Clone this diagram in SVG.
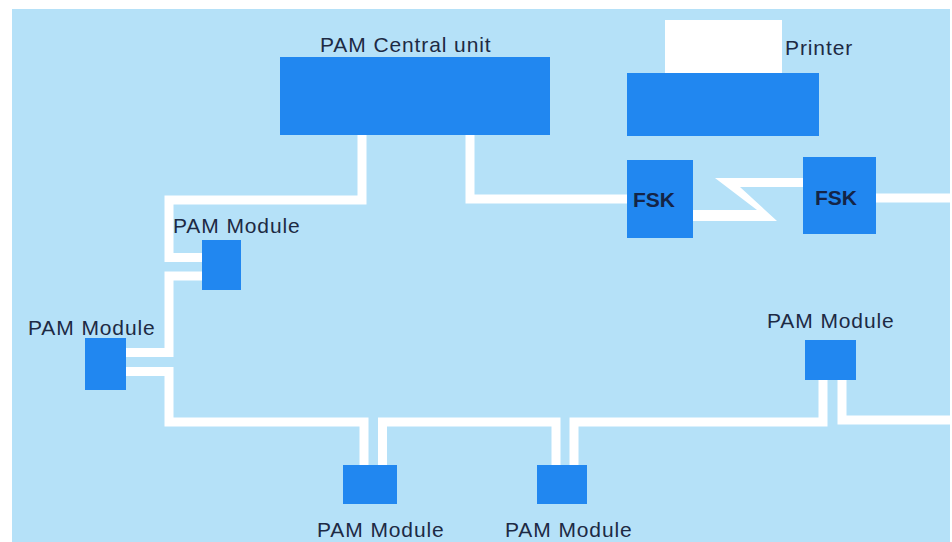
<svg xmlns="http://www.w3.org/2000/svg" width="952" height="542" viewBox="0 0 952 542">
  <style>
    .box { fill: #2187f0; }
    .lbl { font-family: "Liberation Sans", Arial, sans-serif; font-size: 21px; fill: #1d2a44; letter-spacing: 0.9px; }
    .fsk { font-family: "Liberation Sans", Arial, sans-serif; font-size: 21px; font-weight: bold; fill: #142446; }
    .wire { fill: none; stroke: #ffffff; stroke-width: 9; stroke-linejoin: miter; stroke-linecap: butt; }
  </style>
  <rect x="0" y="0" width="952" height="542" fill="#ffffff"/>
  <rect x="12" y="9" width="938" height="533" fill="#b5e1f8"/>

  <g id="connectors">
    <path class="wire" d="M362,135 V200 H169 V257.5 H202"/>
    <path class="wire" d="M202,276 H169 V352.5 H126"/>
    <path class="wire" d="M126,371.5 H169 V422 H364 V465"/>
    <path class="wire" d="M382.5,465 V422 H556 V465"/>
    <path class="wire" d="M574,465 V422 H823 V380"/>
    <path class="wire" d="M842,380 V420 H950"/>
    <path class="wire" d="M470,135 V199 H627"/>
    <path class="wire" d="M876,198 H950"/>
    <polygon fill="#ffffff" points="715,178 803,178 803,187 740,187 777,221 693,221 693,210 757,210"/>
  </g>

  <g id="central-unit">
    <rect class="box" x="280" y="57" width="270" height="78"/>
    <text class="lbl" x="320" y="52">PAM Central unit</text>
  </g>

  <g id="printer">
    <rect x="665" y="20" width="117" height="53" fill="#ffffff"/>
    <rect class="box" x="627" y="73" width="192" height="63"/>
    <text class="lbl" x="785" y="55">Printer</text>
  </g>

  <g id="fsk-left">
    <rect class="box" x="627" y="160" width="66" height="78"/>
    <text class="fsk" x="633" y="207">FSK</text>
  </g>

  <g id="fsk-right">
    <rect class="box" x="803" y="157" width="73" height="77"/>
    <text class="fsk" x="815" y="205">FSK</text>
  </g>

  <g id="module-a">
    <rect class="box" x="202" y="240" width="39" height="50"/>
    <text class="lbl" x="173" y="233">PAM Module</text>
  </g>

  <g id="module-b">
    <rect class="box" x="85" y="338" width="41" height="52"/>
    <text class="lbl" x="28" y="335">PAM Module</text>
  </g>

  <g id="module-c">
    <rect class="box" x="343" y="465" width="54" height="39"/>
    <text class="lbl" x="317" y="537">PAM Module</text>
  </g>

  <g id="module-d">
    <rect class="box" x="537" y="465" width="50" height="39"/>
    <text class="lbl" x="505" y="537">PAM Module</text>
  </g>

  <g id="module-e">
    <rect class="box" x="805" y="340" width="51" height="40"/>
    <text class="lbl" x="767" y="328">PAM Module</text>
  </g>
</svg>
